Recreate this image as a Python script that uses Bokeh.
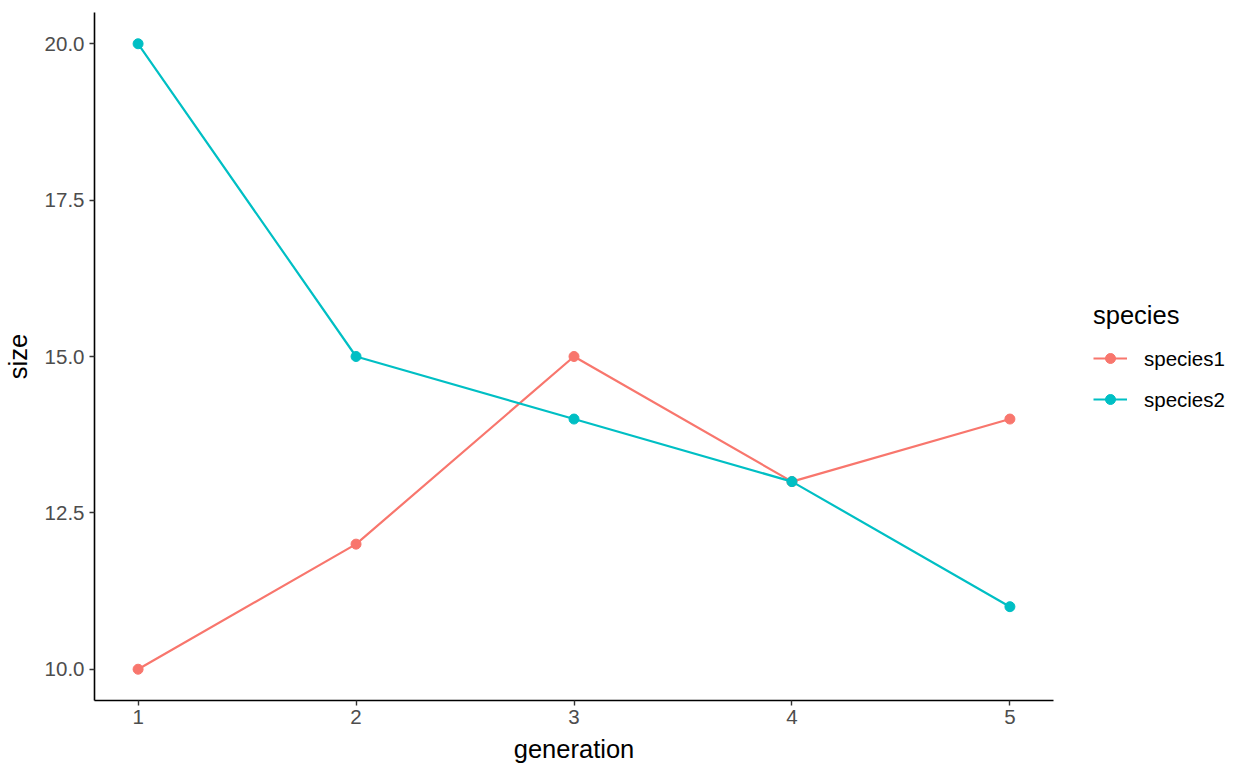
from bokeh.plotting import figure
from bokeh.models import Legend, LegendItem, Range1d, FixedTicker, NumeralTickFormatter
from bokeh.embed import file_html
from bokeh.resources import INLINE

generation = [1, 2, 3, 4, 5]
species1 = [10, 12, 15, 13, 14]
species2 = [20, 15, 14, 13, 11]
series_names = ["species1", "species2"]
colors = ["#F8766D", "#00BFC4"]
y_ticks = [10.0, 12.5, 15.0, 17.5, 20.0]

FONT = "Liberation Sans"

p = figure(frame_width=959, frame_height=688, output_backend="svg", toolbar_location=None,
           x_range=Range1d(0.8, 5.2), y_range=Range1d(9.5, 20.5),
           min_border_left=93, min_border_right=0, min_border_top=12, min_border_bottom=60)
p.grid.visible = False
p.outline_line_color = None
p.background_fill_color = "white"
p.border_fill_color = "white"

items = []
for name, ys, c in zip(series_names, [species1, species2], colors):
    l = p.line(generation, ys, line_color=c, line_width=2.2)
    s = p.scatter(generation, ys, fill_color=c, line_color=c, size=10)
    items.append(LegendItem(label=name, renderers=[l, s]))

for ax in (p.xaxis[0], p.yaxis[0]):
    ax.axis_line_color = "black"
    ax.axis_line_width = 1.6
    ax.major_tick_line_color = "#333333"
    ax.major_tick_line_width = 1.4
    ax.major_tick_out = 5
    ax.major_tick_in = 0
    ax.minor_tick_line_color = None
    ax.major_label_text_font = FONT
    ax.major_label_text_font_size = "20.5px"
    ax.major_label_text_color = "#4D4D4D"
    ax.axis_label_text_font = FONT
    ax.axis_label_text_font_size = "25.5px"
    ax.axis_label_text_font_style = "normal"
    ax.axis_label_text_color = "black"

p.xaxis.ticker = FixedTicker(ticks=generation)
p.yaxis.ticker = FixedTicker(ticks=y_ticks)
p.yaxis.formatter = NumeralTickFormatter(format="0.0")
p.xaxis.axis_label = "generation"
p.yaxis.axis_label = "size"
p.xaxis.major_label_standoff = 4
p.xaxis.axis_label_standoff = 8
p.yaxis.major_label_standoff = 5
p.yaxis.axis_label_standoff = 10

legend = Legend(items=items, location="center_left", title="species",
                title_text_font=FONT, title_text_font_size="25.5px", title_text_color="black",
                title_text_font_style="normal", title_standoff=16,
                label_text_font=FONT, label_text_font_size="20.5px", label_text_color="black",
                glyph_width=34, glyph_height=25, label_standoff=17, spacing=16,
                border_line_color=None, background_fill_alpha=0, padding=0, margin=40)
p.add_layout(legend, "right")

open("out.html", "w").write(file_html(p, INLINE))
